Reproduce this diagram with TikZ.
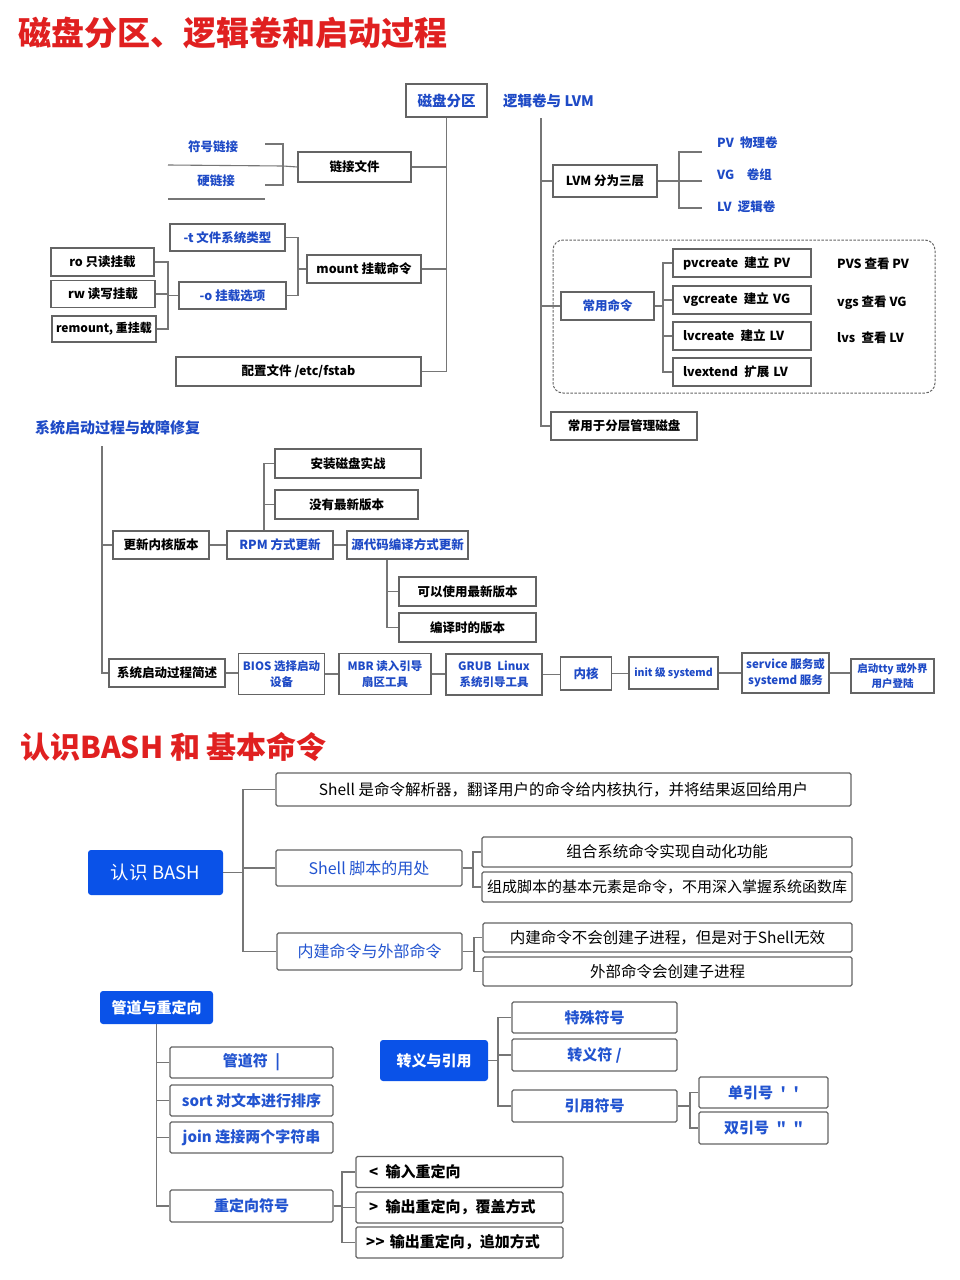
\documentclass[tikz,border=0pt]{standalone}
\usepackage{fontspec}
\setmainfont{Noto Sans CJK SC}
\definecolor{titlered}{RGB}{224,32,32}
\definecolor{topblue}{RGB}{30,74,198}
\definecolor{lowblue}{RGB}{34,84,208}
\definecolor{fillblue}{RGB}{10,82,232}
\definecolor{edgegray}{RGB}{100,100,100}
\definecolor{linegray}{RGB}{118,118,118}
\newcommand{\fsz}[1]{\fontsize{#1}{#1}\selectfont}

\begin{document}
\begin{tikzpicture}[x=1pt,y=-1pt,
  box/.style={draw=edgegray,line width=1.1pt,inner sep=0pt,align=center,font=\fsz{12.5}\bfseries},
  wh/.style 2 args={minimum width=#1pt,minimum height=#2pt},
  tword/.style={inner sep=0pt,font=\fsz{12.5}\bfseries},
  twoline/.style={font=\fontsize{11.5}{16}\selectfont\bfseries,text=topblue},
  cmdbox/.style={box,align=left,text width=118pt,inner xsep=10pt,minimum height=28pt},
  lowbox/.style={draw=edgegray,line width=1.1pt,rounded corners=1.5pt,inner sep=0pt,align=center,font=\fsz{15.5}},
  lowblue/.style={lowbox,text=lowblue,font=\fsz{15}\bfseries},
  redir/.style={lowbox,align=left,text width=181pt,inner xsep=13pt,minimum height=31pt,font=\fsz{15}\bfseries},
  solid/.style={fill=fillblue,text=white,rounded corners=3pt,inner sep=0pt,font=\fsz{15}\bfseries},
  link/.style={draw=linegray,line width=1.1pt},
]
\fill[white] (0,0) rectangle (960,1280);
\useasboundingbox (0,0) rectangle (960,1280);

%%%%% titles
\node[anchor=west,inner sep=0pt,font=\fsz{33}\bfseries,text=titlered] (ttl1) at (18,33) {磁盘分区、逻辑卷和启动过程};
\node[anchor=west,inner sep=0pt,font=\fsz{30}\bfseries,text=titlered] (ttl2) at (20,747) {认识BASH 和 基本命令};

%%%%% disk partition
\node[box,wh={81}{33},font=\fsz{14.5}\bfseries,text=topblue] (cpfq) at (446.5,100.5) {磁盘分区};
\node[box,wh={113}{30}] (ljwj) at (354.5,167) {链接文件};
\node[tword,text=topblue] (fhlj) at (213,147) {符号链接};
\node[tword,text=topblue] (ylj) at (216,181) {硬链接};
\node[box,wh={114}{28}] (mount) at (364,269) {mount 挂载命令};
\node[box,wh={115}{27},text=topblue] (tfs) at (227.5,237.5) {-t 文件系统类型};
\node[box,wh={107}{27},text=topblue] (oopt) at (232.5,295.5) {-o 挂载选项};
\node[box,wh={103}{28}] (ro) at (102.5,262) {ro 只读挂载};
\node[box,wh={104}{27}] (rw) at (103,294) {rw 读写挂载};
\node[box,wh={104}{26},font=\fsz{12}\bfseries] (remount) at (104,329) {remount, 重挂载};
\node[box,wh={245}{29}] (fstab) at (298.5,371.5) {配置文件 /etc/fstab};

\draw[link] (cpfq.south) |- (fstab.east);
\draw[link] (ljwj.east) -- (ljwj.east -| cpfq.south);
\draw[link] (mount.east) -- (mount.east -| cpfq.south);

\coordinate (fhtick) at (265,144);
\coordinate (yltick) at (265,185);
\coordinate (lkj) at (283,166);
\draw[link] (fhtick) -| (lkj) |- (yltick);
\draw[link] (168,165) -- (lkj) -- (ljwj.west);
\draw[link] (168,199) -- (265,199);

\coordinate (mj) at (298,0);
\foreach \c in {tfs,oopt}
  \draw[link] (mount.west) -| (mj |- \c.east) -- (\c.east);
\coordinate (oj) at (168,0);
\foreach \c in {ro,rw,remount}
  \draw[link] (oopt.west) -| (oj |- \c.east) -- (\c.east);

%%%%% LVM
\node[tword,anchor=west,font=\fsz{14.5}\bfseries,text=topblue] (lvm) at (503,101) {逻辑卷与 LVM};
\node[box,wh={104}{32}] (lvm3) at (605,181) {LVM 分为三层};
\node[tword,anchor=west,text=topblue] (pv) at (717,143) {PV\enspace 物理卷};
\node[tword,anchor=west,text=topblue] (vg) at (717,175) {VG\enspace\enspace 卷组};
\node[tword,anchor=west,text=topblue] (lv) at (717,207) {LV\enspace 逻辑卷};
\coordinate (pvt) at (702,152);
\coordinate (vgt) at (702,181);
\coordinate (lvt) at (702,208);
\coordinate (lj) at (679,0);
\foreach \c in {pvt,vgt,lvt}
  \draw[link] (lvm3.east) -| (lj |- \c) -- (\c);

\draw[edgegray,line width=1pt,dash pattern=on 2.5pt off 1.5pt,rounded corners=10pt] (553,240) rectangle (935,393);
\node[box,wh={93}{28},text=topblue] (cyml) at (607.5,306) {常用命令};
\node[cmdbox] (pvc) at (742,263) {pvcreate\enspace 建立 PV};
\node[cmdbox] (vgc) at (742,300) {vgcreate\enspace 建立 VG};
\node[cmdbox] (lvc) at (742,336) {lvcreate\enspace 建立 LV};
\node[cmdbox] (lve) at (742,372) {lvextend\enspace 扩展 LV};
\node[tword,anchor=west] (pvs) at (837,264) {PVS 查看 PV};
\node[tword,anchor=west] (vgs) at (837,303) {vgs 查看 VG};
\node[tword,anchor=west] (lvs) at (837,338) {lvs\enspace 查看 LV};
\coordinate (cj) at (663,0);
\foreach \c in {pvc,vgc,lvc,lve}
  \draw[link] (cyml.east) -| (cj |- \c.west) -- (\c.west);
\node[box,wh={146}{28}] (cyfc) at (624,426) {常用于分层管理磁盘};

\coordinate (lvmtop) at (541,118);
\draw[link] (lvmtop) |- (cyfc.west);
\draw[link] (lvmtop |- lvm3.west) -- (lvm3.west);
\draw[link] (lvmtop |- cyml.west) -- (cyml.west);

%%%%% boot
\node[tword,anchor=west,font=\fsz{15}\bfseries,text=topblue] (boot) at (35,428) {系统启动过程与故障修复};
\coordinate (btop) at (102,446);
\node[box,wh={96}{28}] (gxnh) at (161,545) {更新内核版本};
\node[box,wh={106}{28},text=topblue] (rpm) at (280,545) {RPM 方式更新};
\node[box,wh={121}{28},text=topblue] (ydm) at (407.5,545) {源代码编译方式更新};
\node[box,wh={146}{29}] (azcp) at (348,463.5) {安装磁盘实战};
\node[box,wh={143}{29}] (mynew) at (346.5,504.5) {没有最新版本};
\node[box,wh={137}{29}] (kysy) at (467.5,591.5) {可以使用最新版本};
\node[box,wh={137}{29}] (byss) at (467.5,627.5) {编译时的版本};

\node[box,wh={116}{28}] (qdgc) at (167,673) {系统启动过程简述};
\node[box,twoline,wh={86}{41}] (bios) at (281.5,674) {BIOS 选择启动\\设备};
\node[box,twoline,wh={92}{41}] (mbr) at (385,674) {MBR 读入引导\\扇区工具};
\node[box,twoline,wh={96}{41}] (grub) at (494,674.5) {GRUB\enspace Linux\\系统引导工具};
\node[box,wh={51}{33},text=topblue] (nh) at (586,673.5) {内核};
\node[box,wh={89}{32},text=topblue,font=\fsz{10.5}\bfseries] (init) at (673.5,673) {init 级 systemd};
\node[box,twoline,wh={87}{40}] (svc) at (785.5,673) {service 服务或\\systemd 服务};
\node[box,twoline,wh={83}{34},font=\fontsize{10.5}{15}\selectfont\bfseries] (tty) at (892.5,676) {启动tty 或外界\\用户登陆};

\draw[link] (btop) |- (gxnh.west);
\draw[link] (btop) |- (qdgc.west);
\draw[link] (gxnh.east) -- (rpm.west);
\draw[link] (rpm.east) -- (ydm.west);
\coordinate (rj) at (264,0);
\foreach \c in {azcp,mynew}
  \draw[link] (rj |- rpm.north) |- (\c.west);
\coordinate (yj) at (387,0);
\foreach \c in {kysy,byss}
  \draw[link] (yj |- ydm.south) |- (\c.west);
\foreach \a/\b in {qdgc/bios,bios/mbr,mbr/grub,grub/nh,nh/init,init/svc,svc/tty}
  \draw[link] (\a.east) -- (\a.east -| \b.west);

%%%%% bash
\node[solid,wh={135}{45},font=\fsz{18.5}] (bash) at (155.5,872.5) {认识 BASH};
\node[lowbox,wh={575}{33}] (shell1) at (563.5,789.5) {Shell 是命令解析器，翻译用户的命令给内核执行，并将结果返回给用户};
\node[lowbox,wh={186}{36},text=lowblue,font=\fsz{16}] (shuse) at (369,868) {Shell 脚本的用处};
\node[lowbox,wh={185}{37},text=lowblue,font=\fsz{16}] (njwb) at (369.5,951.5) {内建命令与外部命令};
\node[lowbox,wh={370}{30}] (zh) at (667,852) {组合系统命令实现自动化功能};
\node[lowbox,wh={370}{30},font=\fsz{15}] (zc) at (667,887) {组成脚本的基本元素是命令，不用深入掌握系统函数库};
\node[lowbox,wh={369}{29}] (njbh) at (667.5,937.5) {内建命令不会创建子进程，但是对于Shell无效};
\node[lowbox,wh={369}{29}] (wbcj) at (667.5,971.5) {外部命令会创建子进程};

\coordinate (bj) at (243,0);
\foreach \c in {shell1,shuse,njwb}
  \draw[link] (bash.east) -| (bj |- \c.west) -- (\c.west);
\coordinate (sj) at (473,0);
\foreach \c in {zh,zc}
  \draw[link] (shuse.east) -| (sj |- \c.west) -- (\c.west);
\coordinate (nj) at (474,0);
\foreach \c in {njbh,wbcj}
  \draw[link] (njwb.east) -| (nj |- \c.west) -- (\c.west);

%%%%% pipes
\node[solid,wh={113}{33}] (gd) at (156.5,1007.5) {管道与重定向};
\node[lowblue,wh={163}{31}] (gdf) at (251.5,1062.5) {管道符\enspace |};
\node[lowblue,wh={163}{31}] (sort) at (251.5,1100.5) {sort 对文本进行排序};
\node[lowblue,wh={163}{31}] (join) at (251.5,1137.5) {join 连接两个字符串};
\node[lowblue,wh={163}{32}] (cdx) at (251.5,1206) {重定向符号};
\node[redir] (inr) at (459.5,1172) {<\enspace 输入重定向};
\node[redir] (outr) at (459.5,1207.5) {>\enspace 输出重定向，覆盖方式};
\node[redir,inner xsep=10pt,text width=187pt] (appr) at (459.5,1242.5) {>\kern0.6pt> 输出重定向，追加方式};

\foreach \c in {gdf,sort,join,cdx}
  \draw[link] (gd.south) |- (\c.west);
\coordinate (dj) at (342,0);
\foreach \c in {inr,outr,appr}
  \draw[link] (cdx.east) -| (dj |- \c.west) -- (\c.west);

%%%%% quoting
\node[solid,wh={108}{41}] (zyyy) at (434,1060.5) {转义与引用};
\node[lowblue,wh={165}{31}] (tsfh) at (594.5,1017.5) {特殊符号};
\node[lowblue,wh={165}{32}] (zyf) at (594.5,1055) {转义符 /};
\node[lowblue,wh={165}{32}] (yyfh) at (594.5,1106) {引用符号};
\node[lowblue,wh={129}{31}] (dyh) at (763.5,1092.5) {单引号\enspace\textquotesingle\enspace\textquotesingle};
\node[lowblue,wh={129}{32}] (syh) at (763.5,1128) {双引号\enspace\textquotedbl\enspace\textquotedbl};

\coordinate (zj) at (498,0);
\foreach \c in {tsfh,zyf,yyfh}
  \draw[link] (zyyy.east) -| (zj |- \c.west) -- (\c.west);
\coordinate (yj2) at (690,0);
\foreach \c in {dyh,syh}
  \draw[link] (yyfh.east) -| (yj2 |- \c.west) -- (\c.west);

\end{tikzpicture}
\end{document}
